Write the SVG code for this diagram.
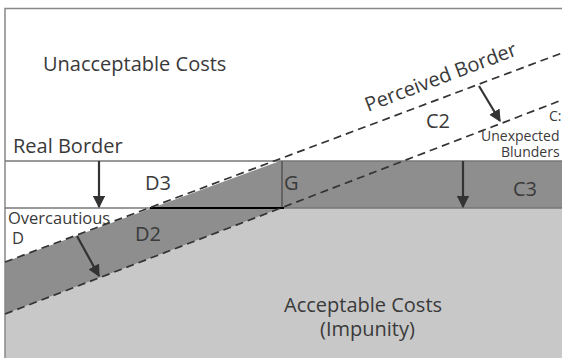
<svg xmlns="http://www.w3.org/2000/svg" width="562" height="358" viewBox="0 0 562 358">
<defs>
<style>
text{font-family:"Open Sans","Noto Sans","Liberation Sans",sans-serif;fill:#3a3a3a}
.big{font-size:20px}
.mid{font-size:16.5px}
.sm{font-size:14px}
.dash{fill:none;stroke:#333;stroke-width:1.7;stroke-dasharray:8 5}
.frame{fill:none;stroke:#888;stroke-width:1.5}
.arr{stroke:#333;stroke-width:2.2;fill:none;marker-end:url(#ah)}
</style>
<marker id="ah" viewBox="0 0 10 10" refX="9" refY="5" markerWidth="5.5" markerHeight="5.5" orient="auto" markerUnits="strokeWidth">
<path d="M0,0 L10,5 L0,10 Z" fill="#333"/>
</marker>
</defs>
<rect x="0" y="0" width="562" height="358" fill="#fff"/>
<g id="regions">
<polygon id="acceptable" points="5,314 281,208 562,208 562,358 5,358" fill="#c8c8c8"/>
<polygon id="dark" points="5,262 280,161 562,161 562,208 281,208 5,314" fill="#8e8e8e"/>
</g>
<g id="frame">
<path class="frame" d="M5,358 V8.5 H562"/>
<line x1="5" y1="161" x2="562" y2="161" stroke="#777" stroke-width="1.5"/>
<line x1="5" y1="208" x2="562" y2="208" stroke="#777" stroke-width="1.5"/>
<line x1="282" y1="161" x2="282" y2="208" stroke="#555" stroke-width="1.5"/>
<line x1="150" y1="208" x2="284" y2="208" stroke="#000" stroke-width="2"/>
</g>
<g id="connectors">
<line class="dash" x1="5" y1="262" x2="562" y2="53"/>
<line class="dash" x1="5" y1="314" x2="562" y2="100"/>
<line class="arr" x1="99" y1="161" x2="99" y2="207"/>
<line class="arr" x1="463" y1="161" x2="463" y2="207"/>
<line class="arr" x1="479" y1="86" x2="500" y2="121"/>
<line class="arr" x1="77" y1="236" x2="99" y2="276"/>
</g>
<g id="labels">
<text class="big" x="43" y="71">Unacceptable Costs</text>
<text class="big" x="13" y="153">Real Border</text>
<text class="big" x="145" y="190">D3</text>
<text class="big" x="284" y="190">G</text>
<text class="big" x="513" y="196">C3</text>
<text class="mid" x="8" y="224">Overcautious</text>
<text class="mid" x="12" y="244">D</text>
<text class="big" x="135" y="241">D2</text>
<text class="big" x="426" y="128">C2</text>
<text class="sm" x="549" y="121">C:</text>
<text class="sm" x="481" y="141">Unexpected</text>
<text class="sm" x="501" y="157">Blunders</text>
<text class="big" transform="translate(368,112) rotate(-20.8)">Perceived Border</text>
<text class="big" x="284" y="312">Acceptable Costs</text>
<text class="big" x="320" y="336">(Impunity)</text>
</g>
</svg>
